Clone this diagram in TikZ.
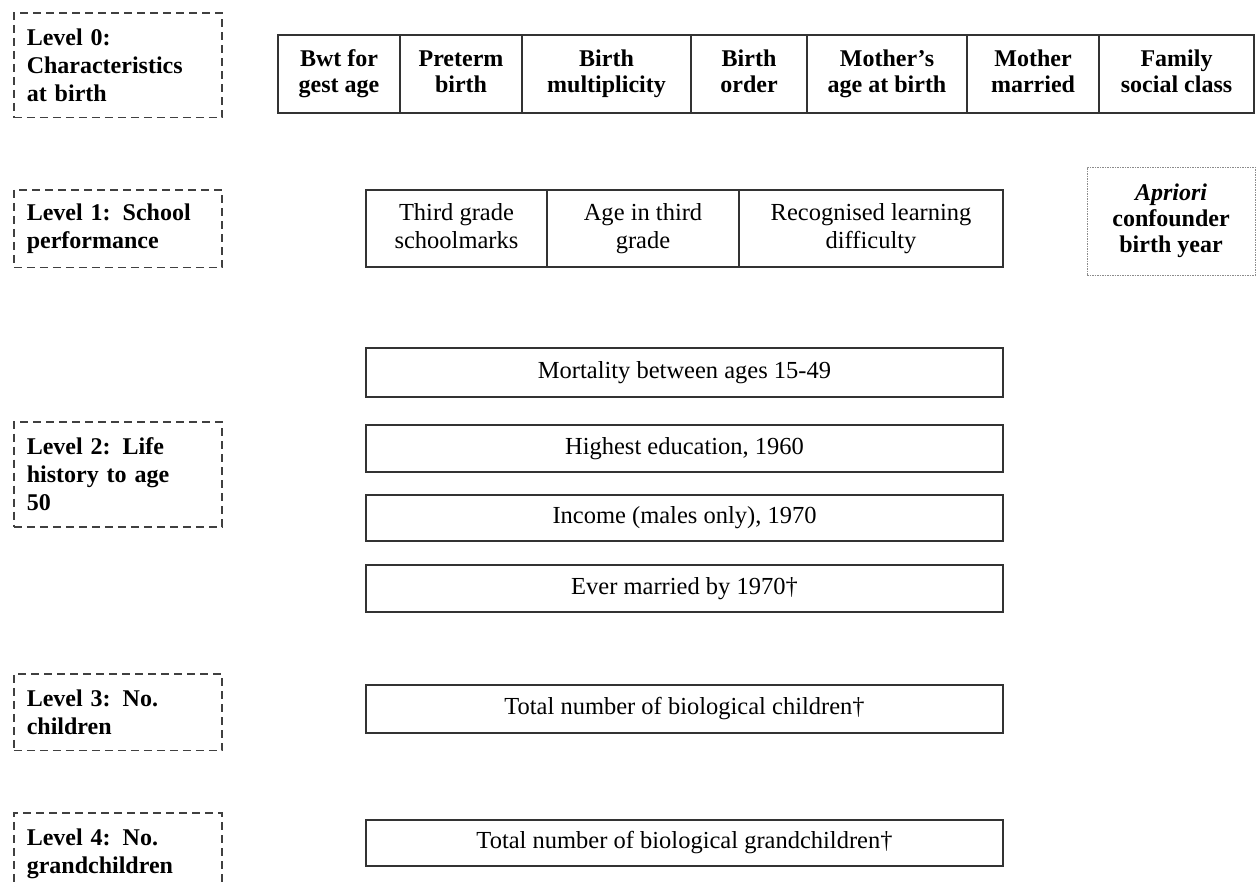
\documentclass[tikz,border=0pt]{standalone}
\usepackage{fontspec}
\setmainfont{Liberation Serif}
\usetikzlibrary{positioning}

% two centred lines of text in a cell
\newcommand{\twoline}[2]{\begin{tabular}{@{}c@{}}#1\\#2\end{tabular}}

\tikzset{
  cell/.style={draw=black!80, line width=1.5pt, outer sep=0pt, inner sep=0pt,
    minimum height=78pt, font=\bfseries\fontsize{24}{26}\selectfont},
  schoolcell/.style={cell, minimum height=77pt, font=\fontsize{24.5}{28}\selectfont},
  widebox/.style={draw=black!80, line width=1.5pt, outer sep=0pt, anchor=north west,
    minimum width=637pt, font=\fontsize{24.5}{27}\selectfont,
    text height=18pt, text depth=7pt},
  levelbox/.style={draw=black!75, line width=1.5pt, dash pattern=on 8pt off 5pt,
    anchor=north west, align=left, text width=182pt, inner xsep=13pt, inner ysep=16pt,
    font=\bfseries\fontsize{24}{28}\selectfont},
}

\begin{document}
\begin{tikzpicture}[x=1pt, y=-1pt]
  \useasboundingbox (0,0) rectangle (1257,886);

  % level labels
  \node[levelbox] (lev0) at (13,12) {Level 0:\\Characteristics\\at birth};
  \node[levelbox, inner ysep=14pt] (lev1) at (13,189) {Level 1: School\\performance};
  \node[levelbox] (lev2) at (13,421) {Level 2: Life\\history to age\\50};
  \node[levelbox] (lev3) at (13,673) {Level 3: No.\\children};
  \node[levelbox] (lev4) at (13,812) {Level 4: No.\\grandchildren};

  % characteristics at birth
  \node[cell, anchor=north west, minimum width=122pt] (bwt) at (278,35) {\twoline{Bwt for}{gest age}};
  \node[cell, minimum width=122pt, right=0pt of bwt] (preterm) {\twoline{Preterm}{birth}};
  \node[cell, minimum width=169pt, right=0pt of preterm] (multi) {\twoline{Birth}{multiplicity}};
  \node[cell, minimum width=116pt, right=0pt of multi] (order) {\twoline{Birth}{order}};
  \node[cell, minimum width=160pt, right=0pt of order] (mage) {\twoline{Mother’s}{age at birth}};
  \node[cell, minimum width=132pt, right=0pt of mage] (married) {\twoline{Mother}{married}};
  \node[cell, minimum width=155pt, right=0pt of married] (social) {\twoline{Family}{social class}};

  % school performance
  \node[schoolcell, anchor=north west, minimum width=181pt] (marks) at (366,190) {\twoline{Third grade}{schoolmarks}};
  \node[schoolcell, minimum width=192pt, right=0pt of marks] (agegrade) {\twoline{Age in third}{grade}};
  \node[schoolcell, minimum width=264pt, right=0pt of agegrade] (learning) {\twoline{Recognised learning}{difficulty}};

  \node[draw=black!45, line width=1pt, dash pattern=on 1.5pt off 1pt, align=center,
    minimum width=168pt, minimum height=108pt,
    font=\bfseries\fontsize{24}{26}\selectfont] (prior) at (1171,221)
    {\textit{Apriori}\\confounder\\birth year};

  % life history, children, grandchildren
  \node[widebox, minimum height=49pt] (mort) at (366,348) {Mortality between ages 15-49};
  \node[widebox, minimum height=47pt] (educ) at (366,425) {Highest education, 1960};
  \node[widebox, minimum height=46pt] (income) at (366,495) {Income (males only), 1970};
  \node[widebox, minimum height=47pt] (evermar) at (366,565) {Ever married by 1970†};
  \node[widebox, minimum height=48pt] (kids) at (366,685) {Total number of biological children†};
  \node[widebox, minimum height=46pt] (gkids) at (366,820) {Total number of biological grandchildren†};
\end{tikzpicture}
\end{document}
